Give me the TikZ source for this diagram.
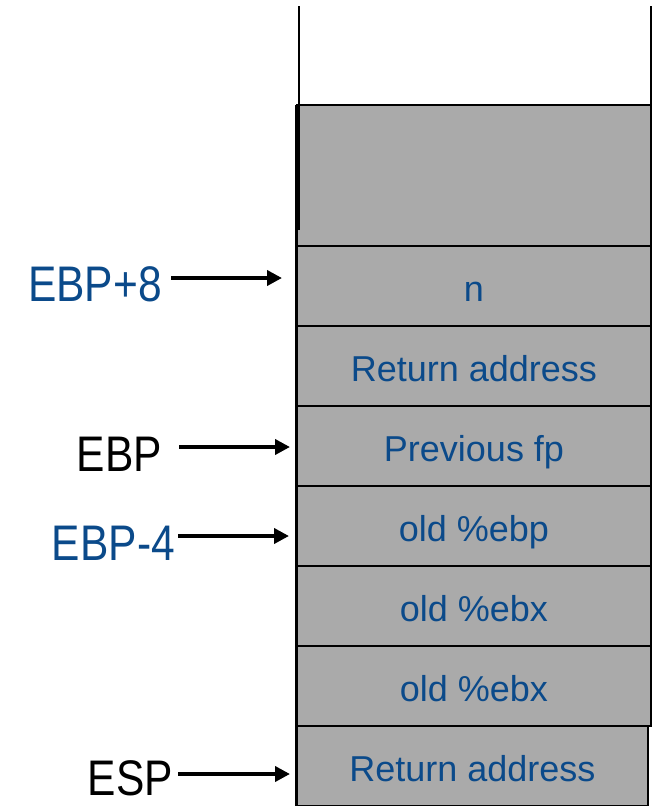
\documentclass[tikz,border=0pt]{standalone}
\usepackage{fontspec}
\setmainfont{Liberation Sans}
\newfontfamily\lblfont[FakeStretch=0.85]{Liberation Sans}
\usetikzlibrary{positioning,arrows.meta}
\definecolor{stackgray}{HTML}{AAAAAA}
\definecolor{stackblue}{HTML}{0B4A8A}
\tikzset{
  slot/.style={draw,line width=2pt,fill=stackgray,minimum width=354pt,minimum height=80pt,
    inner sep=0pt,outer sep=0pt,text height=34pt,text depth=4pt,text=stackblue,
    font=\fontsize{36}{40}\selectfont},
  reg/.style={inner sep=0pt,font=\lblfont\fontsize{50}{54}\selectfont},
  ptr/.style={line width=4pt,-{Triangle[length=15pt,width=15pt]}}
}
\begin{document}
\begin{tikzpicture}[x=1pt,y=-1pt]
\useasboundingbox (0,0) rectangle (654,806);
\node[slot,minimum height=141pt] (topblk) at (474,175.5) {};
\node[slot,below=0pt of topblk] (r1) {n};
\node[slot,below=0pt of r1] (r2) {Return address};
\node[slot,below=0pt of r2] (r3) {Previous fp};
\node[slot,below=0pt of r3] (r4) {old \%ebp};
\node[slot,below=0pt of r4] (r5) {old \%ebx};
\node[slot,below=0pt of r5] (r6) {old \%ebx};
\node[slot,minimum width=351pt,below right=0pt and 0pt of r6.south west] (r7) {Return address};
% open top of the stack
\draw[line width=2pt] (299,6) -- (299,230);
\draw[line width=2pt] (651,6) -- (topblk.north east);
\draw[line width=1pt] (295,105) -- (295,806);
% register labels
\node[reg,text=stackblue,anchor=base east] (ebp8) at (162,301) {EBP+8};
\node[reg,anchor=base east] (ebp) at (162,471) {EBP};
\node[reg,text=stackblue,anchor=base east] (ebp4) at (175,560) {EBP-4};
\node[reg,anchor=base east] (esp) at (173,795) {ESP};
\coordinate (t1) at (282,278);
\coordinate (t2) at (290,447);
\coordinate (t3) at (289,536);
\coordinate (t4) at (290,774);
\draw[ptr] ([xshift=9pt]ebp8.east |- t1) -- (t1);
\draw[ptr] ([xshift=17pt]ebp.east |- t2) -- (t2);
\draw[ptr] ([xshift=3pt]ebp4.east |- t3) -- (t3);
\draw[ptr] ([xshift=5pt]esp.east |- t4) -- (t4);
\end{tikzpicture}
\end{document}
